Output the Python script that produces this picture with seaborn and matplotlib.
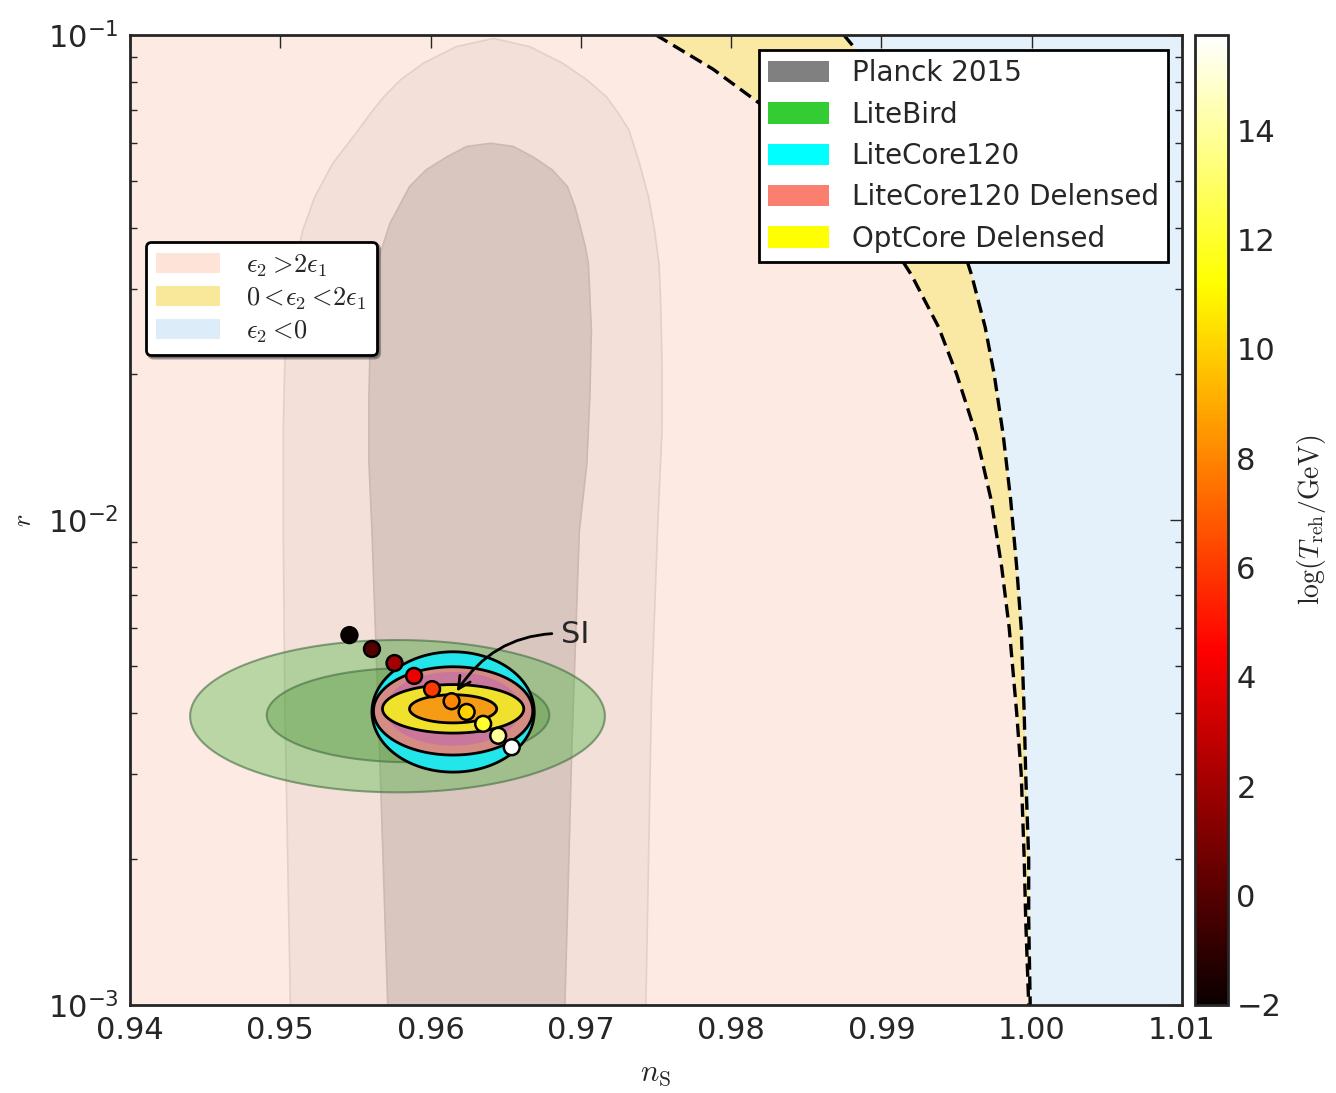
import numpy as np
import matplotlib
matplotlib.use('Agg')
import matplotlib.pyplot as plt
import matplotlib.patches as mpatches
from matplotlib.ticker import FormatStrFormatter, LogLocator
from matplotlib.font_manager import FontProperties
import seaborn as sns

# slow-roll regions: boundary curves (r, n_s)
bound_r = [0.1, 0.085, 0.07, 0.06, 0.05, 0.04, 0.032, 0.025, 0.02, 0.015,
           0.011, 0.008, 0.006, 0.004, 0.003, 0.002, 0.0015, 0.001]
bound_2eps1_ns = [0.975, 0.9788, 0.9825, 0.985, 0.9875, 0.99, 0.992, 0.9938, 0.995, 0.9963,
                  0.9973, 0.998, 0.9985, 0.999, 0.9993, 0.9995, 0.9996, 0.9998]
bound_zero_ns = [0.9875, 0.9894, 0.9913, 0.9925, 0.9938, 0.995, 0.996, 0.9969, 0.9975, 0.9981,
                 0.9986, 0.999, 0.9993, 0.9995, 0.9996, 0.9998, 0.9998, 0.9999]

# Planck 2015 contours (outline points, left side up then right side down)
planck_out_ns = [0.9507, 0.9503, 0.9502, 0.9502, 0.9503, 0.9507, 0.9510, 0.9515, 0.9523, 0.9535,
                 0.9552, 0.9560, 0.9569, 0.9580, 0.9595, 0.9617, 0.9642,
                 0.9666, 0.9688, 0.9704, 0.9717, 0.9725, 0.9732, 0.9739, 0.9745, 0.9749, 0.9752,
                 0.9753, 0.9754, 0.9754, 0.9751, 0.9747, 0.9743]
planck_out_r = [0.0009, 0.0043, 0.0095, 0.0153, 0.0210, 0.0289, 0.0338, 0.0396, 0.0464, 0.0544,
                0.0637, 0.0689, 0.0746, 0.0808, 0.0874, 0.0946, 0.0984,
                0.0946, 0.0874, 0.0808, 0.0746, 0.0689, 0.0637, 0.0544, 0.0464, 0.0396, 0.0338,
                0.0289, 0.0210, 0.0153, 0.0095, 0.0043, 0.0009]
planck_in_ns = [0.9572, 0.9566, 0.9561, 0.9559, 0.9559, 0.9560, 0.9562, 0.9564, 0.9568, 0.9573,
                0.9579, 0.9586, 0.9597, 0.9611, 0.9624, 0.9640,
                0.9655, 0.9668, 0.9681, 0.9691, 0.9696, 0.9699, 0.9703, 0.9705, 0.9706, 0.9707,
                0.9706, 0.9704, 0.9699, 0.9694, 0.9689]
planck_in_r = [0.0009, 0.0034, 0.0095, 0.0131, 0.0180, 0.0246, 0.0289, 0.0338, 0.0366, 0.0409,
               0.0443, 0.0487, 0.0527, 0.0561, 0.0589, 0.0598,
               0.0589, 0.0561, 0.0527, 0.0487, 0.0443, 0.0409, 0.0366, 0.0338, 0.0289, 0.0246,
               0.0180, 0.0131, 0.0095, 0.0034, 0.0009]

# forecast ellipses: centre n_s, centre r, half width in n_s, half height in decades
ell_ns = [0.9578, 0.9585, 0.9615, 0.9615, 0.9615, 0.9615, 0.9615]
ell_r = [0.00394, 0.00396, 0.00402, 0.00404, 0.00408, 0.00408, 0.00408]
ell_dns = [0.0138, 0.0094, 0.0054, 0.0053, 0.0045, 0.0047, 0.0029]
ell_dlog = [0.157, 0.097, 0.124, 0.091, 0.076, 0.050, 0.029]

# SI model points, coloured by log(T_reh/GeV)
si_ns = [0.9546, 0.9561, 0.9576, 0.9589, 0.9601, 0.9614, 0.9624, 0.9635, 0.9645, 0.9654]
si_r = [0.00579, 0.00542, 0.00507, 0.00477, 0.00448, 0.00423, 0.00402, 0.00380, 0.00359, 0.00340]
si_logT = [-2, 0, 2, 4, 6, 8, 10, 12, 14, 15.74]

exp_labels = ['Planck 2015', 'LiteBird', 'LiteCore120', 'LiteCore120 Delensed', 'OptCore Delensed']
exp_colors = ['#808080', '#33cc33', '#00ffff', '#fa7f6e', '#ffff00']
reg_labels = [r'$\epsilon_2 > \!2\epsilon_1$', r'$0 < \!\epsilon_2 < \!2\epsilon_1$', r'$\epsilon_2 < \!0$']
reg_colors = ['#fde3d8', '#fae89a', '#dcedf9']

sns.set_style('white')
plt.rcParams['font.family'] = ['DejaVu Sans']
plt.rcParams['mathtext.fontset'] = 'dejavusans'

fig = plt.figure(figsize=(13.36, 10.93), dpi=100)
ax = fig.add_axes([130/1336, 88/1093, 1052/1336, 970/1093])
ax.set_yscale('log')
ax.set_xlim(0.94, 1.01)
ax.set_ylim(1e-3, 1e-1)

# background regions
ax.fill_betweenx(bound_r, 0.94, bound_2eps1_ns, color='#fdebe3', lw=0, zorder=0)
ax.fill_betweenx(bound_r, bound_2eps1_ns, bound_zero_ns, color='#fae8a5', lw=0, zorder=0)
ax.fill_betweenx(bound_r, bound_zero_ns, 1.01, color='#e4f1fa', lw=0, zorder=0)
for b in [bound_2eps1_ns, bound_zero_ns]:
    ax.plot(b, bound_r, color='black', ls=(0, (4, 2)), lw=2.4, zorder=1)

# Planck
ax.fill(planck_out_ns, planck_out_r, facecolor='#f2e0d9', edgecolor='#e2d0c9', lw=1.2, zorder=2)
ax.fill(planck_in_ns, planck_in_r, facecolor='#d9c7bf', edgecolor='#cdb9b1', lw=1.2, zorder=2)

# ellipses
t = np.linspace(0, 2*np.pi, 200)
ell_style = [
    dict(facecolor=(0.23, 0.69, 0.19, 0.35), edgecolor=(0.25, 0.42, 0.25, 0.6), lw=1.5),
    dict(facecolor=(0.28, 0.56, 0.2, 0.35), edgecolor=(0.25, 0.42, 0.25, 0.6), lw=1.5),
    dict(facecolor='#22e6ea', edgecolor='black', lw=2),
    dict(facecolor='#d48c84', edgecolor='black', lw=2),
    dict(facecolor='#c9779b', edgecolor='none', lw=0),
    dict(facecolor='#f0e12c', edgecolor='black', lw=2),
    dict(facecolor='#f59c14', edgecolor='black', lw=2),
]
for i in range(len(ell_ns)):
    xs = ell_ns[i] + ell_dns[i]*np.cos(t)
    ys = ell_r[i] * 10**(ell_dlog[i]*np.sin(t))
    ax.fill(xs, ys, zorder=3+i, **ell_style[i])

# SI points
sns.scatterplot(x=si_ns, y=si_r, hue=si_logT, palette='hot', hue_norm=(-2, 15.74),
                s=130, edgecolor='black', linewidth=1.8, legend=False, ax=ax, zorder=12)
ax.annotate('SI', xy=(0.96174, 0.00443), xytext=(0.9696, 0.00582), fontsize=22,
            ha='center', va='center', zorder=13,
            arrowprops=dict(arrowstyle='->', connectionstyle='arc3,rad=0.3', lw=2, color='black',
                            shrinkA=4, shrinkB=0, mutation_scale=22))

# axes styling
ax.set_xticks(np.arange(0.94, 1.0101, 0.01))
ax.xaxis.set_major_formatter(FormatStrFormatter('%.2f'))
ax.yaxis.set_minor_locator(LogLocator(base=10, subs=np.arange(2, 10)))
ax.tick_params(which='both', direction='in', top=True, right=True, labelsize=22, width=1)
ax.tick_params(which='major', length=9, pad=8)
ax.tick_params(which='minor', length=5)
ax.tick_params(axis='y', which='minor', left=True, right=True)
for s in ax.spines.values():
    s.set_linewidth(2)
ax.set_xlabel(r'$n_{\rm S}$', fontsize=22, math_fontfamily='cm', labelpad=10)
ax.set_ylabel(r'$r$', fontsize=19, math_fontfamily='cm', labelpad=8)

# legends
reg_handles = [mpatches.Patch(facecolor=c, edgecolor='none') for c in reg_colors]
leg1 = ax.legend(reg_handles, reg_labels, loc='upper left', bbox_to_anchor=(0.015, 0.787),
                 prop=FontProperties(size=19, math_fontfamily='cm'), shadow=True, fancybox=True,
                 framealpha=1, edgecolor='black', handlelength=2.4, handleheight=0.8,
                 labelspacing=0.25, borderpad=0.4, handletextpad=1.0, borderaxespad=0)
leg1.get_frame().set_linewidth(2)
leg1.set_zorder(20)
ax.add_artist(leg1)
exp_handles = [mpatches.Patch(facecolor=c, edgecolor='none') for c in exp_colors]
leg2 = ax.legend(exp_handles, exp_labels, loc='upper right', bbox_to_anchor=(0.987, 0.985),
                 fontsize=20, fancybox=False, framealpha=1, edgecolor='black', handlelength=2.2,
                 handleheight=0.8, labelspacing=0.48, borderpad=0.35, handletextpad=0.8,
                 borderaxespad=0)
leg2.get_frame().set_linewidth(2)
leg2.set_zorder(20)

# colorbar
cax = fig.add_axes([1195/1336, 88/1093, 33/1336, 970/1093])
sm = plt.cm.ScalarMappable(norm=plt.Normalize(-2, 15.74), cmap='hot')
cbar = fig.colorbar(sm, cax=cax)
cbar.set_ticks(np.arange(-2, 15, 2))
cbar.outline.set_linewidth(2)
cax.tick_params(direction='in', length=7, width=1, labelsize=22, pad=6)
cbar.set_label(r'$\log(T_{\rm reh}/{\rm GeV})$', fontsize=20, math_fontfamily='cm', labelpad=10)

fig.savefig('out.png', dpi=100)
